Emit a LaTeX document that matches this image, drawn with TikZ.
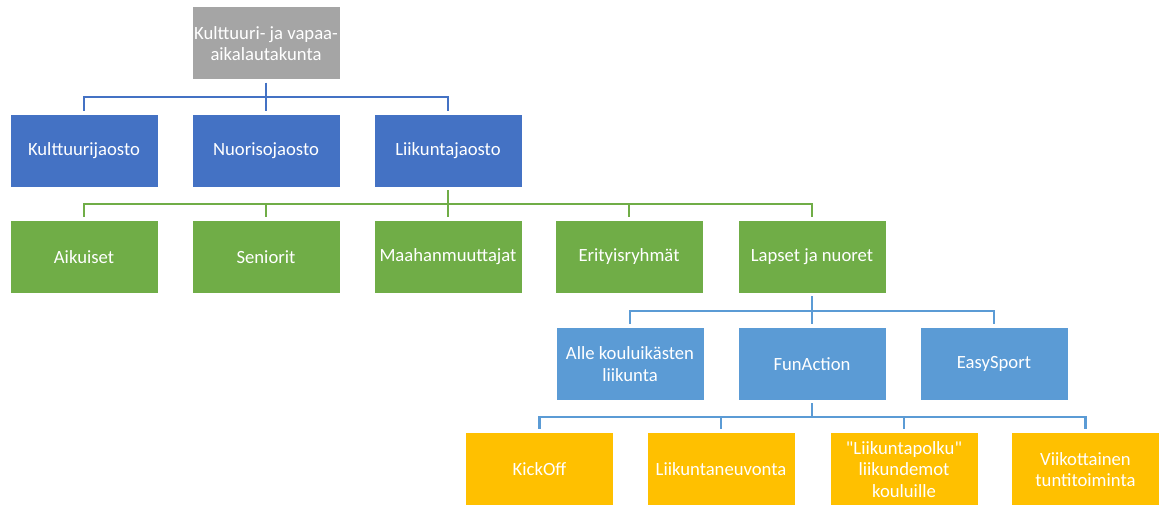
\documentclass[tikz,border=0pt]{standalone}
\usepackage{fontspec}
\setmainfont{Carlito}[Ligatures=TeXOff]
\definecolor{cgray}{HTML}{A5A5A5}
\definecolor{cblue}{HTML}{4472C4}
\definecolor{cgreen}{HTML}{70AD47}
\definecolor{clblue}{HTML}{5B9BD5}
\definecolor{cyellow}{HTML}{FFC000}
\begin{document}
\begin{tikzpicture}[x=0.75pt,y=-0.75pt,
  box/.style={minimum width=110.25pt,minimum height=54pt,inner sep=1pt,text=white,
    font=\fontsize{14pt}{16pt}\selectfont,align=center},
  graybox/.style={box,fill=cgray},
  bluebox/.style={box,fill=cblue},
  greenbox/.style={box,fill=cgreen},
  lbluebox/.style={box,fill=clblue},
  yellowbox/.style={box,fill=cyellow},
  conn/.style={line width=2.2pt,shorten <=2.25pt,shorten >=3pt}]
\useasboundingbox (0,0) rectangle (1160,505);
% nodes
\node[graybox] (top) at (266,43.5) {Kulttuuri- ja vapaa-\\aikalautakunta};
\node[bluebox] (kj) at (84,151) {Kulttuurijaosto};
\node[bluebox] (nj) at (266,151) {Nuorisojaosto};
\node[bluebox] (lj) at (448,151) {Liikuntajaosto};
\node[greenbox] (ai) at (84,257) {Aikuiset};
\node[greenbox] (se) at (266,257) {Seniorit};
\node[greenbox] (ma) at (448,257) {Maahanmuuttajat};
\node[greenbox] (er) at (629,257) {Erityisryhmät};
\node[greenbox] (ln) at (812,257) {Lapset ja nuoret};
\node[lbluebox] (al) at (630,364) {Alle kouluikästen\\liikunta};
\node[lbluebox] (fa) at (812,364) {FunAction};
\node[lbluebox] (es) at (994,364) {EasySport};
\node[yellowbox] (ko) at (539.5,469.5) {KickOff};
\node[yellowbox] (lv) at (721,469.5) {Liikuntaneuvonta};
\node[yellowbox] (lp) at (904,469.5) {"Liikuntapolku"\\liikundemot\\kouluille};
\node[yellowbox] (vt) at (1085.5,469.5) {Viikottainen\\tuntitoiminta};
% connectors
\foreach \c in {kj,nj,lj}
  \draw[conn,cblue] (top.south) -- (top.south |- 0,97) -| (\c.north);
\foreach \c in {ai,se,ma,er,ln}
  \draw[conn,cgreen] (lj.south) -- (lj.south |- 0,204) -| (\c.north);
\foreach \c in {al,fa,es}
  \draw[conn,clblue] (ln.south) -- (ln.south |- 0,311) -| (\c.north);
\foreach \c in {ko,lv,lp,vt}
  \draw[conn,clblue] (fa.south) -- (fa.south |- 0,417) -| (\c.north);
\end{tikzpicture}
\end{document}
